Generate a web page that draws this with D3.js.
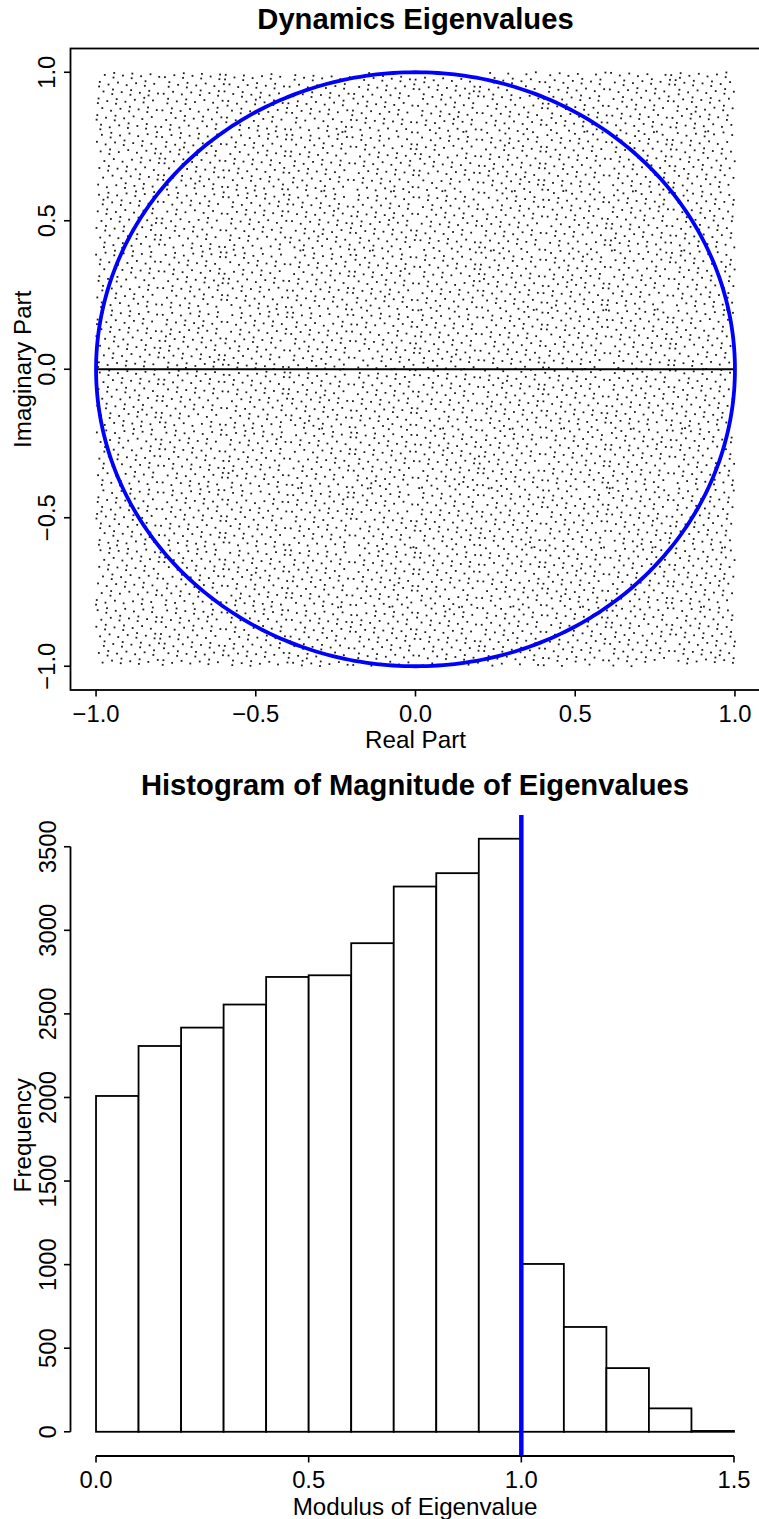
<!DOCTYPE html>
<html>
<head>
<meta charset="utf-8">
<script src="https://cdn.jsdelivr.net/npm/d3@7"></script>
<style>
  html, body { margin: 0; padding: 0; background: #fff; }
  svg { display: block; font-family: "Liberation Sans", Arial, Helvetica, sans-serif; }
</style>
</head>
<body>
<svg id="chart" width="759" height="1519"></svg>
<script>
// ---- Eigenvalue scatter: counts of eigenvalues per 0.2 x 0.2 cell of the
// complex plane, rows from Im = 1 down to Im = -1, columns Re = -1 .. 1
const cellEdges = [-1, -0.8, -0.6, -0.4, -0.2, 0, 0.2, 0.4, 0.6, 0.8, 1];
const cellCounts = [
  [66, 64, 68, 62, 65, 67, 63, 66, 64, 67],
  [63, 67, 65, 66, 64, 62, 68, 65, 66, 64],
  [67, 62, 64, 68, 66, 65, 64, 63, 67, 65],
  [64, 66, 63, 65, 67, 64, 66, 68, 62, 66],
  [65, 68, 66, 64, 63, 66, 65, 64, 65, 63],
  [66, 64, 65, 67, 65, 63, 67, 66, 64, 68],
  [62, 65, 67, 63, 66, 68, 64, 65, 66, 64],
  [67, 66, 64, 66, 62, 65, 66, 63, 68, 65],
  [64, 63, 68, 65, 67, 64, 62, 67, 65, 66],
  [65, 67, 64, 66, 64, 66, 65, 64, 63, 67]
];
const reTicks = [-1, -0.5, 0, 0.5, 1];
const imTicks = [-1, -0.5, 0, 0.5, 1];

// ---- Histogram of |eigenvalue|
const binEdges = [0, 0.1, 0.2, 0.3, 0.4, 0.5, 0.6, 0.7, 0.8, 0.9, 1.0, 1.1, 1.2, 1.3, 1.4, 1.5];
const binCounts = [2009, 2308, 2418, 2556, 2721, 2731, 2923, 3262, 3342, 3548, 1004, 627, 381, 140, 5];
const freqTicks = [0, 500, 1000, 1500, 2000, 2500, 3000, 3500];
const modTicks = [0, 0.5, 1.0, 1.5];
const unitModulus = 1.0;

const svg = d3.select("#chart");
const fmt1 = v => d3.format(".1f")(v).replace("-", "\u2212");
const FS = 23.8;      // tick labels
const LFS = 24.2;     // axis titles
const TFS = 29.2;     // main titles

// =================== Top panel: eigenvalues in the complex plane ===================
const scatterG = svg.append("g");
const x = d3.scaleLinear().domain([-1.08, 1.08]).range([70.5, 760.5]);
const y = d3.scaleLinear().domain([-1.08, 1.08]).range([690, 48.5]);

// dot-density placement inside each cell (quasi-uniform R2 sequence)
const a1 = 0.7548776662466927, a2 = 0.5698402909980532;
const pts = [];
cellCounts.forEach((row, r) => {
  row.forEach((n, c) => {
    const x0 = cellEdges[c], x1 = cellEdges[c + 1];
    const y1 = cellEdges[cellEdges.length - 1 - r], y0 = cellEdges[cellEdges.length - 2 - r];
    const o1 = ((r * 10 + c) * 0.618034) % 1, o2 = ((r * 10 + c) * 0.414214) % 1;
    for (let k = 0; k < n; k++) {
      const u = (o1 + (k + 1) * a1) % 1, v = (o2 + (k + 1) * a2) % 1;
      pts.push([x0 + u * (x1 - x0), y0 + v * (y1 - y0)]);
    }
  });
});

scatterG.append("g").selectAll("rect").data(pts).join("rect")
  .attr("x", d => x(d[0]) - 0.9).attr("y", d => y(d[1]) - 0.9)
  .attr("width", 1.8).attr("height", 1.8).attr("fill", "#1a1a1a");

// real axis
scatterG.append("line")
  .attr("x1", x(-1)).attr("x2", x(1)).attr("y1", y(0)).attr("y2", y(0))
  .attr("stroke", "#000").attr("stroke-width", 2.2);

// unit circle
const theta = d3.range(0, 361, 1).map(t => t * Math.PI / 180);
scatterG.append("path")
  .attr("d", d3.line().x(t => x(Math.cos(t))).y(t => y(Math.sin(t)))(theta))
  .attr("fill", "none").attr("stroke", "#0000ff").attr("stroke-width", 3.8);

// frame
scatterG.append("rect")
  .attr("x", x.range()[0]).attr("y", y.range()[1])
  .attr("width", x.range()[1] - x.range()[0]).attr("height", y.range()[0] - y.range()[1])
  .attr("fill", "none").attr("stroke", "#000").attr("stroke-width", 1.8);

// ticks
scatterG.append("g").selectAll("line").data(reTicks).join("line")
  .attr("x1", d => x(d)).attr("x2", d => x(d)).attr("y1", 690).attr("y2", 696.5)
  .attr("stroke", "#000").attr("stroke-width", 1.6);
scatterG.append("g").selectAll("line").data(imTicks).join("line")
  .attr("y1", d => y(d)).attr("y2", d => y(d)).attr("x1", 70.5).attr("x2", 64)
  .attr("stroke", "#000").attr("stroke-width", 1.6);

scatterG.append("g").selectAll("text").data(reTicks).join("text")
  .attr("x", d => x(d)).attr("y", 722).attr("text-anchor", "middle")
  .attr("font-size", FS).text(fmt1);
scatterG.append("g").selectAll("text").data(imTicks).join("text")
  .attr("transform", d => `translate(54.5,${y(d)}) rotate(-90)`)
  .attr("text-anchor", "middle").attr("font-size", FS).text(fmt1);

scatterG.append("text").attr("x", x(0)).attr("y", 748).attr("text-anchor", "middle")
  .attr("font-size", LFS).text("Real Part");
scatterG.append("text").attr("transform", `translate(31,${y(0)}) rotate(-90)`)
  .attr("text-anchor", "middle").attr("font-size", LFS).text("Imaginary Part");
scatterG.append("text").attr("x", (x.range()[0] + x.range()[1]) / 2).attr("y", 29)
  .attr("text-anchor", "middle").attr("font-size", TFS).attr("font-weight", "bold")
  .text("Dynamics Eigenvalues");

// =================== Bottom panel: histogram of moduli ===================
const histG = svg.append("g");
const hx = d3.scaleLinear().domain([-0.06, 1.56]).range([70.5, 759.5]);
const yMax = d3.max(binCounts);
const hy = d3.scaleLinear().domain([-0.04 * yMax, 1.04 * yMax]).range([1455.5, 815]);

const bins = binCounts.map((n, i) => ({ x0: binEdges[i], x1: binEdges[i + 1], n }));
histG.append("g").selectAll("rect").data(bins).join("rect")
  .attr("x", d => hx(d.x0)).attr("width", d => hx(d.x1) - hx(d.x0))
  .attr("y", d => hy(d.n)).attr("height", d => hy(0) - hy(d.n))
  .attr("fill", "#fff").attr("stroke", "#000").attr("stroke-width", 1.8);

// unit-modulus marker
histG.append("line")
  .attr("x1", hx(unitModulus)).attr("x2", hx(unitModulus))
  .attr("y1", hy.range()[1]).attr("y2", hy.range()[0])
  .attr("stroke", "#0000ff").attr("stroke-width", 4.5);

// x axis
const axY = 1456;
histG.append("line").attr("x1", hx(modTicks[0])).attr("x2", hx(modTicks[modTicks.length - 1]))
  .attr("y1", axY).attr("y2", axY).attr("stroke", "#000").attr("stroke-width", 1.8);
histG.append("g").selectAll("line").data(modTicks).join("line")
  .attr("x1", d => hx(d)).attr("x2", d => hx(d)).attr("y1", axY).attr("y2", axY + 6.5)
  .attr("stroke", "#000").attr("stroke-width", 1.6);
histG.append("g").selectAll("text").data(modTicks).join("text")
  .attr("x", d => hx(d)).attr("y", 1488).attr("text-anchor", "middle")
  .attr("font-size", FS).text(fmt1);

// y axis
histG.append("line").attr("x1", 70.5).attr("x2", 70.5)
  .attr("y1", hy(freqTicks[0])).attr("y2", hy(freqTicks[freqTicks.length - 1]))
  .attr("stroke", "#000").attr("stroke-width", 1.8);
histG.append("g").selectAll("line").data(freqTicks).join("line")
  .attr("y1", d => hy(d)).attr("y2", d => hy(d)).attr("x1", 70.5).attr("x2", 64)
  .attr("stroke", "#000").attr("stroke-width", 1.6);
histG.append("g").selectAll("text").data(freqTicks).join("text")
  .attr("transform", d => `translate(56,${hy(d)}) rotate(-90)`)
  .attr("text-anchor", "middle").attr("font-size", FS).text(d => String(d));

histG.append("text").attr("x", (hx.range()[0] + hx.range()[1]) / 2).attr("y", 1514.5)
  .attr("text-anchor", "middle").attr("font-size", LFS).text("Modulus of Eigenvalue");
histG.append("text").attr("transform", `translate(31,${(hy.range()[0] + hy.range()[1]) / 2}) rotate(-90)`)
  .attr("text-anchor", "middle").attr("font-size", LFS).text("Frequency");
histG.append("text").attr("x", (hx.range()[0] + hx.range()[1]) / 2).attr("y", 795)
  .attr("text-anchor", "middle").attr("font-size", TFS).attr("font-weight", "bold")
  .text("Histogram of Magnitude of Eigenvalues");
</script>
</body>
</html>
